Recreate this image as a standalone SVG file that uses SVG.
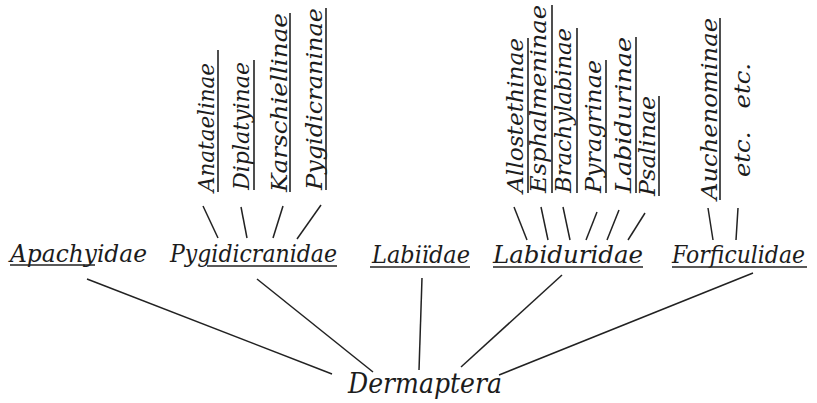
<svg xmlns="http://www.w3.org/2000/svg" width="817" height="403" viewBox="0 0 817 403">
<style>
text{font-style:italic;fill:#1c1c1c}
.h{font-size:25px}
.v{font-size:23px}
.r{font-size:28px}
.u{stroke:#222;stroke-width:1.6;fill:none}
.c line{stroke:#222;stroke-width:1.5}
</style>
<rect width="817" height="403" fill="#fff"/>
<g class="c" id="connectors">
<line x1="87" y1="279" x2="332" y2="374"/>
<line x1="257" y1="279" x2="373" y2="372"/>
<line x1="422" y1="278" x2="419" y2="370"/>
<line x1="562" y1="275" x2="461" y2="367"/>
<line x1="753" y1="273" x2="499" y2="375"/>
<line x1="203" y1="206" x2="218" y2="238"/>
<line x1="241" y1="207" x2="247" y2="238"/>
<line x1="283" y1="206" x2="273" y2="238"/>
<line x1="321" y1="205" x2="297" y2="239"/>
<line x1="514" y1="207" x2="527" y2="240"/>
<line x1="541" y1="207" x2="548" y2="240"/>
<line x1="563" y1="207" x2="570" y2="240"/>
<line x1="597" y1="212" x2="586" y2="240"/>
<line x1="619" y1="210" x2="607" y2="240"/>
<line x1="645" y1="213" x2="628" y2="240"/>
<line x1="708" y1="208" x2="713" y2="240"/>
<line x1="738" y1="208" x2="736" y2="240"/>
</g>
<g font-family="DejaVu Serif, serif">
<g id="dermaptera"><text class="r" x="348" y="393" textLength="154" lengthAdjust="spacingAndGlyphs">Dermaptera</text></g>
<g id="apachyidae"><text class="h" x="10" y="262" textLength="137" lengthAdjust="spacingAndGlyphs">Apachyidae</text><line class="u" x1="10" y1="265" x2="95" y2="265"/></g>
<g id="pygidicranidae"><text class="h" x="170" y="262" textLength="167" lengthAdjust="spacingAndGlyphs">Pygidicranidae</text><line class="u" x1="207" y1="266" x2="337" y2="266"/></g>
<g id="labiidae"><text class="h" x="372" y="263" textLength="98" lengthAdjust="spacingAndGlyphs">Labiïdae</text><line class="u" x1="370" y1="267" x2="470" y2="267"/></g>
<g id="labiduridae"><text class="h" x="493" y="263" textLength="150" lengthAdjust="spacingAndGlyphs">Labiduridae</text><line class="u" x1="493" y1="267" x2="643" y2="267"/></g>
<g id="forficulidae"><text class="h" x="805" y="263" text-anchor="end" textLength="133" lengthAdjust="spacingAndGlyphs">Forficulidae</text><line class="u" x1="672" y1="267" x2="807" y2="267"/></g>
<g id="anataelinae"><text class="v" transform="translate(214,192) rotate(-90)" textLength="129" lengthAdjust="spacingAndGlyphs">Anataelinae</text><line class="u" x1="218" y1="50" x2="218" y2="192"/></g>
<g id="diplatyinae"><text class="v" transform="translate(249,190) rotate(-90)" textLength="128" lengthAdjust="spacingAndGlyphs">Diplatyinae</text><line class="u" x1="254" y1="60" x2="254" y2="190"/></g>
<g id="karschiellinae"><text class="v" transform="translate(287,192) rotate(-90)" textLength="179" lengthAdjust="spacingAndGlyphs">Karschiellinae</text><line class="u" x1="290" y1="13" x2="290" y2="192"/></g>
<g id="pygidicraninae"><text class="v" transform="translate(322,190) rotate(-90)" textLength="182" lengthAdjust="spacingAndGlyphs">Pygidicraninae</text><line class="u" x1="326" y1="8" x2="326" y2="190"/></g>
<g id="allostethinae"><text class="v" transform="translate(523,193) rotate(-90)" textLength="155" lengthAdjust="spacingAndGlyphs">Allostethinae</text><line class="u" x1="528" y1="38" x2="528" y2="193"/></g>
<g id="esphalmeninae"><text class="v" transform="translate(546,193) rotate(-90)" textLength="188" lengthAdjust="spacingAndGlyphs">Esphalmeninae</text><line class="u" x1="552" y1="5" x2="552" y2="193"/></g>
<g id="brachylabinae"><text class="v" transform="translate(571,193) rotate(-90)" textLength="165" lengthAdjust="spacingAndGlyphs">Brachylabinae</text><line class="u" x1="577" y1="28" x2="577" y2="193"/></g>
<g id="pyragrinae"><text class="v" transform="translate(601,193) rotate(-90)" textLength="133" lengthAdjust="spacingAndGlyphs">Pyragrinae</text><line class="u" x1="606" y1="60" x2="606" y2="193"/></g>
<g id="labidurinae"><text class="v" transform="translate(631,193) rotate(-90)" textLength="156" lengthAdjust="spacingAndGlyphs">Labidurinae</text><line class="u" x1="636" y1="37" x2="636" y2="193"/></g>
<g id="psalinae"><text class="v" transform="translate(655,196) rotate(-90)" textLength="100" lengthAdjust="spacingAndGlyphs">Psalinae</text><line class="u" x1="659" y1="96" x2="659" y2="196"/></g>
<g id="auchenominae"><text class="v" transform="translate(717,200) rotate(-90)" textLength="182" lengthAdjust="spacingAndGlyphs">Auchenominae</text><line class="u" x1="720" y1="18" x2="720" y2="200"/></g>
<g id="etc"><text class="v" transform="translate(750,177) rotate(-90)" textLength="114" lengthAdjust="spacingAndGlyphs" xml:space="preserve">etc.   etc.</text></g>
</g>
</svg>
